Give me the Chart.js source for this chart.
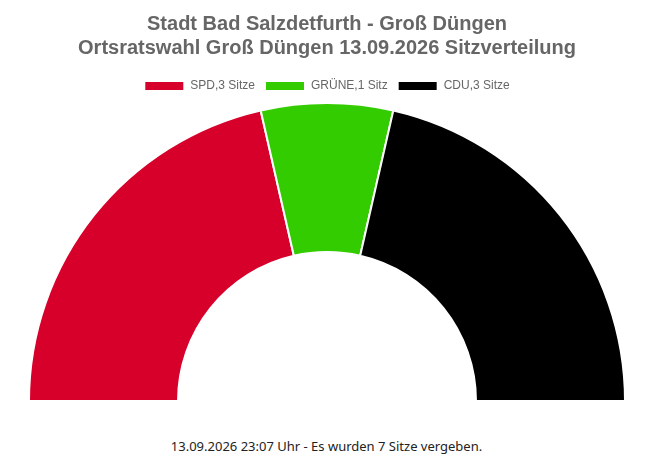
<!DOCTYPE html>
<html>
<head>
<meta charset="utf-8">
<script src="https://cdn.jsdelivr.net/npm/chart.js@4.4.0/dist/chart.umd.min.js"></script>
<style>
  html, body { margin: 0; padding: 0; background: #fff; }
  #wrap { position: absolute; left: 0; top: 0; width: 662px; height: 402px; }
  #footer { position: absolute; left: 0; top: 437px; width: 653px; text-align: center;
            font-family: "Noto Sans", "Open Sans", sans-serif; font-size: 13px; line-height: 18px; color: #222; }
</style>
</head>
<body>
<div id="wrap"><canvas id="c"></canvas></div>
<div id="footer">13.09.2026 23:07 Uhr - Es wurden 7 Sitze vergeben.</div>
<script>
const parties = ["SPD", "GRÜNE", "CDU"];
const seats = [3, 1, 3];
const seatLabels = ["SPD,3 Sitze", "GRÜNE,1 Sitz", "CDU,3 Sitze"];
const colors = ["#D7002B", "#33CC00", "#000000"];
const titleLines = ["Stadt Bad Salzdetfurth - Groß Düngen", "Ortsratswahl Groß Düngen 13.09.2026 Sitzverteilung"];

new Chart(document.getElementById("c"), {
  type: "doughnut",
  data: {
    labels: seatLabels,
    datasets: [{
      data: seats,
      backgroundColor: colors,
      borderColor: "#ffffff",
      borderWidth: 2
    }]
  },
  options: {
    responsive: true,
    maintainAspectRatio: false,
    animation: false,
    rotation: -90,
    circumference: 180,
    cutout: "50%",
    layout: { padding: { left: 27, right: 35, top: 2, bottom: 0 } },
    plugins: {
      title: {
        display: true,
        text: titleLines,
        color: "#666666",
        font: { family: "'Liberation Sans', Arial, sans-serif", size: 20, weight: "bold", lineHeight: 1.2 },
        padding: { top: 10, bottom: 10 }
      },
      legend: {
        display: true,
        position: "top",
        labels: {
          color: "#666666",
          boxWidth: 40,
          boxHeight: 10,
          font: { family: "'Liberation Sans', Arial, sans-serif", size: 12 }
        }
      },
      tooltip: { enabled: false }
    }
  }
});
</script>
</body>
</html>
